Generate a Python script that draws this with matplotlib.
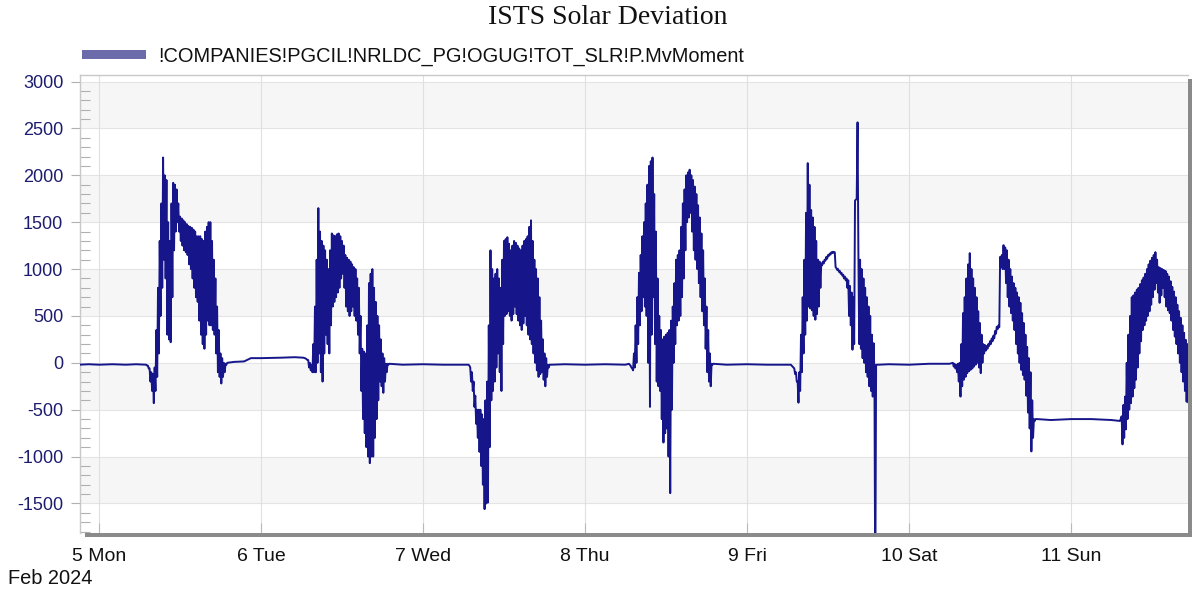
import numpy as np
import matplotlib
matplotlib.use("Agg")
import matplotlib.pyplot as plt
from matplotlib.patches import Rectangle, Patch

plt.rcParams['font.family'] = ['Liberation Sans', 'DejaVu Sans']
plt.rcParams['axes.unicode_minus'] = False

# ---------------- data (hours since 2024-02-05 00:00) ----------------
title = "ISTS Solar Deviation"
series_name = "!COMPANIES!PGCIL!NRLDC_PG!OGUG!TOT_SLR!P.MvMoment"
day_labels = ["5 Mon", "6 Tue", "7 Wed", "8 Thu", "9 Fri", "10 Sat", "11 Sun"]
month_label = "Feb 2024"
step_h = 0.125  # daytime sampling (hours)

# daytime samples: first hour of day, then values every 7.5 min
mon_start = 7.0
mon_vals = [-20, -30, -30, -60, -60, -200, -100, -300, -120, -430, -50, -300,
            350, -150, 800, 100, 1300, 500, 1700, 800, 2190, 1100, 2000, 900,
            1950, 300, 1500, 250, 1300, 220, 1700, 700, 1920, 1200, 1900, 1400,
            1850, 1500, 1700, 1400, 1560, 1300, 1540, 1250, 1520, 1200, 1500, 1180,
            1480, 1150, 1460, 1050, 1450, 1000, 1440, 900, 1420, 800, 1400, 700,
            1350, 650, 1350, 450, 1350, 300, 1320, 200, 1300, 150, 1400, 300,
            1450, 450, 1500, 400, 1500, 400, 1300, 350, 1100, 300, 900, 100,
            600, -100, 350, -150, 100, -220, 50, -150, 0, -100, -10, -20]
tue_start = 6.5
tue_vals = [50, 45, 40, 30, 30, -50, 0, -80, -20, -100, 200, -100,
            600, -100, 1100, 0, 1650, 100, 1400, -100, 1300, -200, 1250, 100,
            1200, 300, 1100, 200, 1000, 100, 1200, 400, 1380, 600, 1360, 650,
            1350, 700, 1370, 750, 1380, 800, 1350, 900, 1300, 950, 1250, 800,
            1150, 600, 1120, 550, 1100, 500, 1080, 550, 1050, 600, 1020, 500,
            1000, 450, 900, 300, 800, 100, 500, -300, 150, -600, 120, -750,
            100, -900, 400, -1000, 850, -1070, 950, -1000, 1000, -1000, 800, -800,
            650, -600, 500, -400, 400, -200, 250, -250, 100, -320, 50, -200,
            -10, -100, -10, -20]
wed_start = 6.5
wed_vals = [-20, -20, -20, -30, -50, -200, -100, -300, -200, -470, -350, -650,
            -500, -800, -500, -950, -500, -1100, -550, -1300, -600, -1560, -400, -1500,
            -200, -1490, 400, -900, 1200, -400, 1000, -300, 900, -200, 950, -50,
            1000, 100, 900, -100, 800, -300, 1100, 200, 1300, 500, 1320, 520,
            1340, 550, 1270, 500, 1200, 450, 1250, 520, 1300, 600, 1280, 520,
            1250, 450, 1220, 400, 1200, 350, 1250, 420, 1300, 500, 1320, 400,
            1350, 300, 1450, 250, 1520, 200, 1300, 100, 1100, 0, 1000, -80,
            900, -150, 700, -120, 450, -100, 250, -180, 100, -250, 50, -150,
            -20, -50, -20, -20]
thu_start = 6.5
thu_vals = [-10, -20, -30, -50, -60, -80, 100, -50, 400, 0, 700, 200,
            960, 400, 1150, 550, 1350, 700, 1500, 600, 1700, 500, 1900, 0,
            2100, -470, 2150, 300, 2190, 700, 1800, 200, 1400, -200, 900, -250,
            500, -300, 350, -600, 250, -850, 280, -750, 300, -700, 320, -1000,
            350, -1390, 450, -500, 600, 0, 850, 200, 1100, 400, 1150, 450,
            1200, 500, 1450, 700, 1700, 900, 1850, 1200, 2000, 1500, 2030, 1550,
            2060, 1600, 2000, 1400, 1950, 1200, 1880, 1100, 1800, 1000, 1680, 850,
            1550, 700, 1380, 550, 1200, 400, 900, 150, 600, -100, 350, -200,
            100, -250, -10, -20]
fri_start = 6.5
fri_vals = [-20, -30, -40, -50, -60, -120, -100, -200, -200, -425, -100, -300,
            300, -100, 700, 100, 1100, 300, 1600, 450, 2130, 600, 1900, 580,
            1630, 560, 1550, 500, 1450, 460, 1300, 520, 1100, 600, 1080, 800,
            1060, 1040, 1080, 1060, 1100, 1090, 1130, 1110, 1150, 1140, 1165, 1155,
            1180, 1170, 1185, 1175, 1180, 1020, 1010, 990, 1000, 970, 980, 950,
            960, 930, 940, 900, 920, 880, 900, 800, 880, 500, 820, 400,
            750, 140, 700, 200, 1730, 1740, 1750, 2565, 1170, 200, 1100, 150,
            1000, 50, 900, 0, 800, -100, 700, -150, 600, -250, 500, -300,
            300, -360, 210, -100, -2500, -20]
sat_start = 6.5
sat_vals = [0, -40, -10, -60, -20, -100, -10, -200, 0, -360, 200, -250,
            530, -180, 700, -150, 900, -110, 1050, -90, 1170, -75, 1000, -60,
            900, -40, 800, -20, 700, 0, 550, -50, 425, -110, 300, 0,
            200, 100, 190, 130, 180, 150, 200, 180, 230, 200, 260, 230,
            290, 260, 340, 310, 385, 360, 400, 380, 1130, 1020, 1150, 1000,
            1255, 1000, 1230, 850, 1200, 700, 1100, 600, 1000, 530, 920, 450,
            850, 350, 800, 200, 750, 100, 700, 0, 640, -75, 530, -130,
            425, -180, 300, -350, 170, -530, 50, -700, -100, -945, -400, -800,
            -600, -620, -600, -600]
sun_start = 7.5
sun_vals = [-570, -870, -450, -800, -360, -710, 0, -600, 300, -500, 500, -430,
            700, -360, 720, -270, 750, -180, 780, -50, 800, 100, 840, 230,
            880, 350, 910, 400, 950, 450, 1000, 500, 1050, 550, 1090, 620,
            1120, 700, 1150, 780, 1180, 850, 1100, 750, 1020, 640, 1010, 720,
            1000, 800, 990, 700, 980, 600, 950, 560, 920, 530, 870, 450,
            810, 350, 760, 280, 700, 200, 620, 100, 550, 0, 480, -100,
            400, -200, 320, -300, 245, -415, 200, -420]

# night-time samples (hours since Feb 5 00:00)
night_hours = [-3.0, -1.5, 0.0, 2.0, 4.0, 5.5, 6.75,
               19.0, 20.0, 21.5, 22.5, 24.0, 27.0, 29.0, 30.25,
               43.0, 45.0, 48.0, 51.0, 54.0,
               67.0, 69.0, 72.0, 75.0, 78.0,
               91.0, 93.0, 96.0, 99.0, 102.0,
               115.5, 117.0, 120.0, 123.0, 126.0,
               139.0, 141.0, 144.0, 147.0, 150.0, 151.25]
night_vals = [-20, -15, -20, -15, -20, -15, -20,
              0, 10, 15, 50, 50, 55, 60, 55,
              -10, -20, -15, -20, -20,
              -20, -15, -20, -15, -20,
              -10, -20, -15, -20, -20,
              -20, -15, -20, -10, -10,
              -600, -610, -600, -600, -610, -620]

# ---------------- assemble ----------------
days = [(0, mon_start, mon_vals), (1, tue_start, tue_vals), (2, wed_start, wed_vals),
        (3, thu_start, thu_vals), (4, fri_start, fri_vals), (5, sat_start, sat_vals),
        (6, sun_start, sun_vals)]
hrs = [np.asarray(night_hours, float)]
vals = [np.asarray(night_vals, float)]
for d, s, v in days:
    hrs.append(24 * d + s + step_h * np.arange(len(v)))
    vals.append(np.asarray(v, float))
hrs = np.concatenate(hrs)
vals = np.concatenate(vals)
order = np.argsort(hrs, kind="stable")
x = hrs[order] / 24.0
y = vals[order]

# ---------------- figure ----------------
W, H = 1192, 593
fig = plt.figure(figsize=(W / 100, H / 100), dpi=100)
L, R, T, B = 80, 1188, 75, 533
ax = fig.add_axes([L / W, 1 - B / H, (R - L) / W, (B - T) / H])
ax.set_facecolor("white")

ax.set_xlim(-0.117, 6.722)
ax.set_ylim(-1815, 3070)

# alternating bands
for lo in [2500, 1500, 500, -500, -1500]:
    ax.axhspan(lo, lo + 500, color="#f6f6f6", zorder=0, lw=0)
for yy in range(-1500, 3001, 500):
    ax.axhline(yy, color="#e4e4e4", lw=0.8, zorder=0.5)
for d in range(7):
    ax.axvline(d, color="#e0e0e0", lw=0.8, zorder=0.5)

ax.plot(x, y, color="#16168a", lw=1.4, zorder=3)

# ticks
ax.set_yticks(np.arange(-1500, 3001, 500))
ax.set_yticks([v for v in range(-1800, 3001, 100) if v % 500 != 0], minor=True)
ax.tick_params(axis="y", which="major", direction="out", length=6.5, width=0.8,
               color="#b0b0b0", labelcolor="#1c1c6e", labelsize=13, pad=5.5)
ax.tick_params(axis="y", which="minor", direction="in", length=7, width=0.8,
               color="#b0b0b0")
ax.set_xticks(range(7))
ax.set_xticklabels(day_labels)
ax.tick_params(axis="x", which="major", direction="in", length=7, width=0.8,
               color="#b8b8b8", labelcolor="#111111", labelsize=14, pad=11)

for side in ["left", "top"]:
    ax.spines[side].set_color("#c8c8c8")
    ax.spines[side].set_linewidth(1.0)
for side in ["right", "bottom"]:
    ax.spines[side].set_visible(False)

# shadowed frame (bottom + right)
fig.add_artist(Rectangle((85 / W, 1 - 537 / H), (W - 85) / W, 4.5 / H,
                         transform=fig.transFigure, color="#8a8a8a", lw=0))
fig.add_artist(Rectangle((R / W, 1 - 537 / H), 4.5 / W, (537 - 79) / H,
                         transform=fig.transFigure, color="#8a8a8a", lw=0))

# title, legend, date label
fig.text(608 / W, 1 - 18 / H, title, ha="center", va="center",
         family="Liberation Serif", fontsize=20, color="#111111")
handle = Patch(facecolor="#6b6bab", edgecolor="none")
leg = ax.legend([handle], [series_name], loc="lower left",
                bbox_to_anchor=(82 / W, 1 - 66 / H), bbox_transform=fig.transFigure,
                frameon=False, fontsize=14.4, handlelength=3.2, handleheight=0.36,
                handletextpad=0.6, borderpad=0, borderaxespad=0)
for t in leg.get_texts():
    t.set_color("#111111")
fig.text(8 / W, 1 - 578 / H, month_label, ha="left", va="center",
         fontsize=14.4, color="#111111")

fig.savefig("out.png", dpi=100)
